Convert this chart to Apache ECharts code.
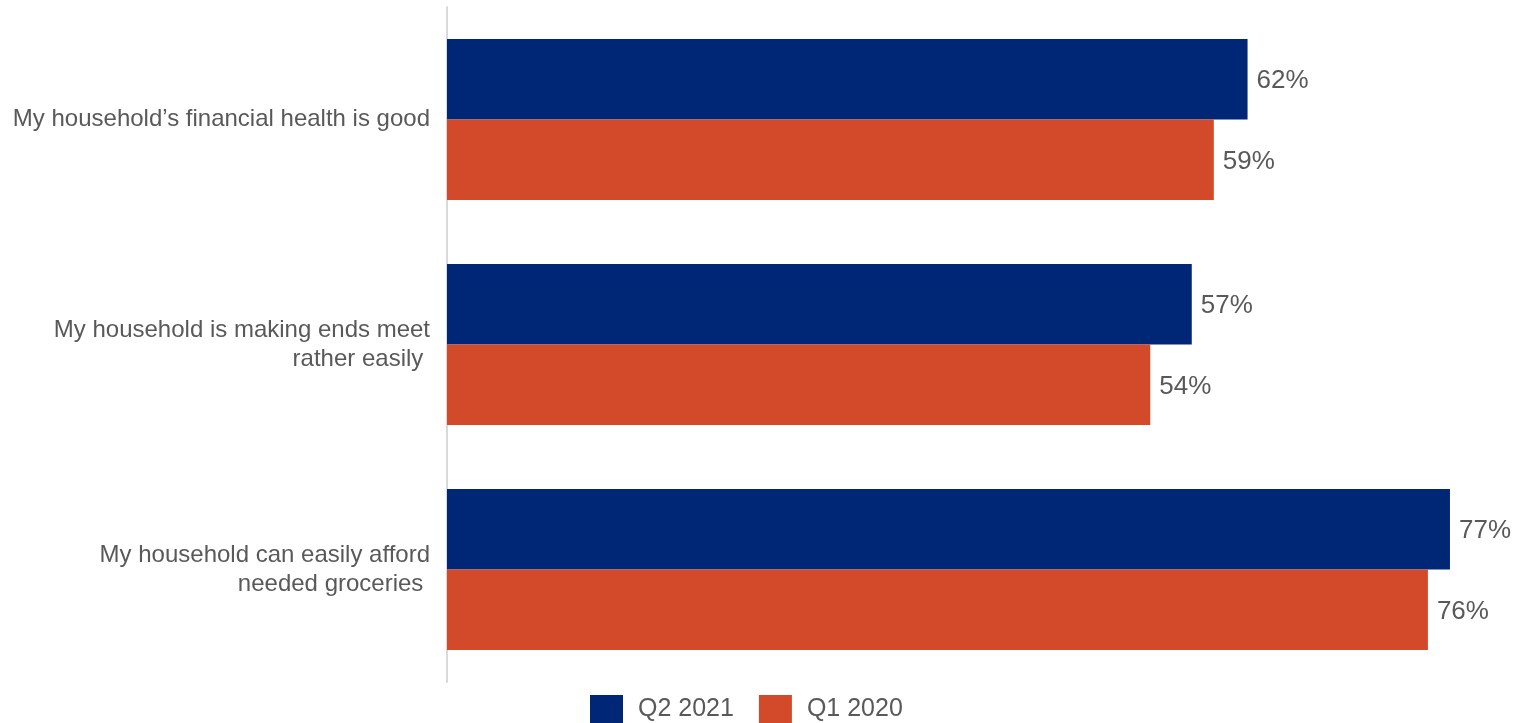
<!DOCTYPE html>
<html lang="en">
<head>
<meta charset="UTF-8">
<title>Household finances</title>
<style>
html, body { margin: 0; padding: 0; background: #fff; }
#chart { width: 1518px; height: 723px; }
</style>
</head>
<body>
<div id="chart"></div>
<script src="https://cdn.jsdelivr.net/npm/echarts@6/dist/echarts.min.js"></script>
<script>
// data (bar lengths; labels show the rounded value)
var categories = [
	'My household\u2019s financial health is good',
	'My household is making ends meet\nrather easily ',
	'My household can easily afford\nneeded groceries '
];
var seriesNames = ['Q2 2021', 'Q1 2020'];
var q2_2021 = [61.7, 57.4, 77.3];
var q1_2020 = [59.1, 54.2, 75.6];
var colors = ['#002776', '#d34a2a'];

var myChart = echarts.init(document.getElementById('chart'));

function barSeries(name, data, color) {
	return {
		name: name,
		type: 'bar',
		data: data,
		barGap: 0,
		barCategoryGap: '28.4%',
		itemStyle: { color: color },
		label: {
			show: true,
			position: 'right',
			distance: 9,
			offset: [0, 2],
			formatter: function (p) { return Math.round(p.value) + '%'; },
			color: '#595959',
			fontSize: 26,
			fontFamily: 'Liberation Sans, Arial, sans-serif'
		}
	};
}

var option = {
	animation: false,
	textStyle: { fontFamily: 'Liberation Sans, Arial, sans-serif' },
	grid: { left: 447, top: 7, width: 1038, height: 675 },
	legend: {
		data: seriesNames,
		left: 585,
		top: 690,
		itemWidth: 33,
		itemHeight: 28,
		itemGap: 25,
		icon: 'rect',
		textStyle: {
			color: '#595959',
			fontSize: 25,
			padding: [2, 0, 0, 10]
		}
	},
	xAxis: {
		type: 'value',
		min: 0,
		max: 80,
		show: false
	},
	yAxis: {
		type: 'category',
		data: categories,
		inverse: true,
		axisLine: { show: true, lineStyle: { color: '#d9d9d9', width: 2 } },
		axisTick: { show: false },
		splitLine: { show: false },
		axisLabel: {
			margin: 17,
			color: '#595959',
			fontSize: 24,
			lineHeight: 29,
			align: 'right',
			padding: [5, 0, 0, 0]
		}
	},
	series: [
		barSeries(seriesNames[0], q2_2021, colors[0]),
		barSeries(seriesNames[1], q1_2020, colors[1])
	]
};
myChart.setOption(option);
</script>
</body>
</html>
